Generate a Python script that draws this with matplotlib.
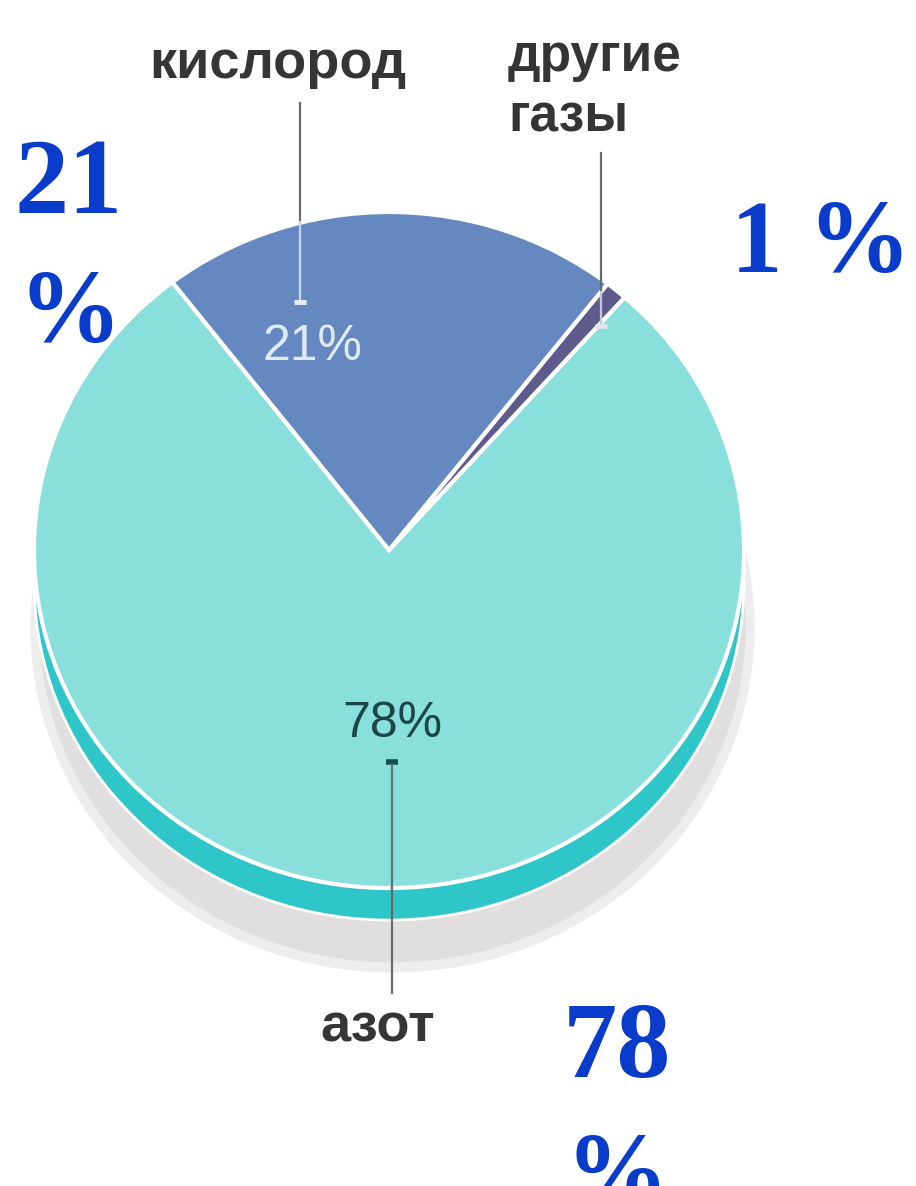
import numpy as np
import matplotlib
matplotlib.use("Agg")
import matplotlib.pyplot as plt

# Состав воздуха
gases = ['азот', 'другие\nгазы', 'кислород']
shares = [78, 1, 21]
pct_labels = ['78%', '1%', '21%']
big_labels = ['78\n%', '1 %', '21\n%']

top_colors = ['#88dfdc', '#5f5a8c', '#6688c0']
side_colors = ['#2ec6c8', '#4a4670', '#4d6ea6']
shadow_color = '#e0dedf'

W, H = 916, 1186
cx, cy = 389, 550      # центр верхней грани, пиксели
rx, ry = 355, 338      # полуоси эллипса

fig = plt.figure(figsize=(W / 100, H / 100), dpi=100)

# оси для круговой диаграммы: 1 единица = rx пикселей по x и ry по y
pax = fig.add_axes([0, 0, 1, 1])
start = 127.6

# тень (мягкий край)
pax.pie(shares, colors=['#eeedee'] * 3, startangle=start, radius=1.02,
        center=(0.01, -0.23), wedgeprops=dict(linewidth=0))
pax.pie(shares, colors=[shadow_color] * 3, startangle=start, radius=0.995,
        center=(0.01, -0.225), wedgeprops=dict(linewidth=0))
# боковая стенка
pax.pie(shares, colors=side_colors, startangle=start, radius=1.0,
        center=(0.0, -0.095), wedgeprops=dict(edgecolor='white', linewidth=2))
# верхняя грань
pax.pie(shares, colors=top_colors, startangle=start, radius=1.0,
        wedgeprops=dict(edgecolor='white', linewidth=3))

pax.set_aspect('auto')
pax.set_xlim((0 - cx) / rx, (W - cx) / rx)
pax.set_ylim((cy - H) / ry, (cy - 0) / ry)
pax.axis('off')

# оси для подписей в пикселях
ax = fig.add_axes([0, 0, 1, 1])
ax.set_xlim(0, W)
ax.set_ylim(H, 0)
ax.patch.set_alpha(0)
ax.axis('off')

sans = ['Liberation Sans', 'DejaVu Sans']
serif = ['Liberation Serif', 'DejaVu Serif']

# кислород
ax.plot([300, 300], [103, 222], color='#6a6a6a', lw=1.6)
ax.plot([300, 300], [222, 300], color='#c9d5ee', lw=1.6)
ax.plot([294, 306], [302, 302], color='#e8eef8', lw=3.5, solid_capstyle='butt')
ax.text(278, 78, gases[2], ha='center', va='baseline', fontsize=39,
        fontweight='bold', color='#353535', family=sans)
ax.text(312, 360, pct_labels[2], ha='center', va='baseline', fontsize=36,
        color='#e2e9f6', family=sans)

# другие газы
ax.plot([601, 601], [153, 292], color='#6a6a6a', lw=1.6)
ax.plot([601, 601], [292, 324], color='#c8c6dc', lw=1.6)
ax.plot([595, 607], [326, 326], color='#e4e2f0', lw=3.5, solid_capstyle='butt')
ax.text(508, 132, gases[1], ha='left', va='baseline', fontsize=37,
        fontweight='bold', color='#353535', family=sans, linespacing=1.32)

# азот
ax.text(392, 737, pct_labels[0], ha='center', va='baseline', fontsize=36,
        color='#1d4446', family=sans)
ax.plot([386, 398], [762, 762], color='#1b4a4c', lw=4, solid_capstyle='butt')
ax.plot([392, 392], [765, 888], color='#4f7a7a', lw=1.6)
ax.plot([392, 392], [888, 993], color='#6a6a6a', lw=1.6)
ax.text(378, 1042, gases[0], ha='center', va='baseline', fontsize=39,
        fontweight='bold', color='#353535', family=sans)

# крупные синие подписи
blue = '#0a3ccc'
ax.text(69, 213, big_labels[2].split('\n')[0], ha='center', va='baseline',
        fontsize=78, fontweight='bold', color=blue, family=serif)
ax.text(70, 342, big_labels[2].split('\n')[1], ha='center', va='baseline',
        fontsize=74, fontweight='bold', color=blue, family=serif)
ax.text(911, 272, big_labels[1], ha='right', va='baseline',
        fontsize=74, fontweight='bold', color=blue, family=serif)
ax.text(617, 1077, big_labels[0].split('\n')[0], ha='center', va='baseline',
        fontsize=78, fontweight='bold', color=blue, family=serif)
ax.text(617, 1205, big_labels[0].split('\n')[1], ha='center', va='baseline',
        fontsize=74, fontweight='bold', color=blue, family=serif)

fig.savefig('out.png', dpi=100)
